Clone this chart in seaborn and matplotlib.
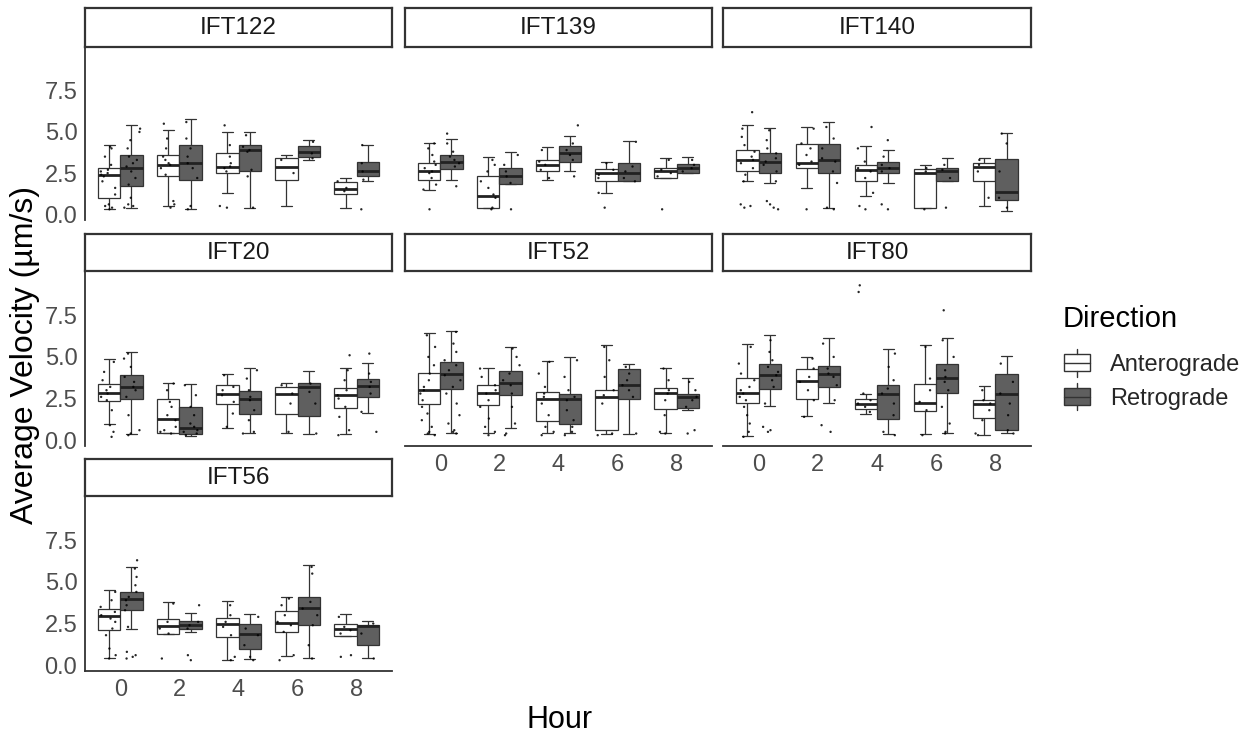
import numpy as np
import pandas as pd
import seaborn as sns
import matplotlib
matplotlib.use("Agg")
import matplotlib.pyplot as plt
from matplotlib.patches import Rectangle, Patch
from matplotlib.lines import Line2D
from matplotlib.legend_handler import HandlerBase

# ---------------- data ----------------
HOURS = ["0", "2", "4", "6", "8"]
DIRECTIONS = ["Anterograde", "Retrograde"]
PANELS = ["IFT122", "IFT139", "IFT140", "IFT20", "IFT52", "IFT80", "IFT56"]

# box summaries per hour: (lower whisker, Q1, median, Q3, upper whisker)
IFT122_ANT = [(0.3, 1.0, 2.4, 2.8, 4.2), (0.5, 2.35, 3.0, 3.6, 5.1), (1.3, 2.5, 2.9, 3.7, 5.0), (0.5, 2.1, 2.9, 3.4, 3.6), (0.4, 1.2, 1.55, 1.95, 2.2)]
IFT122_RET = [(0.4, 1.7, 2.8, 3.6, 5.4), (0.3, 2.1, 3.1, 4.2, 5.8), (0.35, 2.6, 3.9, 4.2, 5.0), (3.3, 3.45, 3.8, 4.15, 4.5), (2.0, 2.3, 2.6, 3.2, 4.2)]
IFT139_ANT = [(1.5, 2.05, 2.6, 3.1, 4.3), (0.35, 0.35, 1.1, 2.35, 3.5), (2.1, 2.6, 3.0, 3.3, 4.1), (1.3, 2.0, 2.5, 2.75, 3.2), (2.2, 2.2, 2.6, 2.8, 3.4)]
IFT139_RET = [(2.1, 2.75, 3.2, 3.6, 4.6), (1.85, 1.85, 2.3, 2.8, 3.8), (2.6, 3.2, 3.75, 4.15, 4.75), (2.0, 2.0, 2.5, 3.1, 4.45), (2.5, 2.5, 2.8, 3.05, 3.5)]
IFT140_ANT = [(2.0, 2.6, 3.3, 3.9, 5.45), (1.6, 2.8, 3.1, 4.25, 5.3), (1.1, 2.0, 2.7, 3.0, 4.15), (0.35, 0.35, 2.5, 2.75, 3.0), (0.5, 2.0, 2.9, 3.1, 3.4)]
IFT140_RET = [(1.9, 2.5, 3.2, 3.7, 5.25), (0.35, 2.5, 3.3, 4.25, 5.6), (1.9, 2.5, 2.8, 3.2, 3.9), (2.0, 2.0, 2.6, 2.8, 3.4), (0.2, 0.85, 1.35, 3.35, 4.95)]
IFT20_ANT = [(0.95, 2.35, 2.85, 3.35, 4.85), (0.45, 0.45, 1.25, 2.5, 3.45), (0.75, 2.15, 2.8, 3.3, 4.0), (0.45, 1.55, 2.8, 3.2, 3.45), (0.35, 1.95, 2.7, 3.15, 4.35)]
IFT20_RET = [(0.35, 2.45, 3.2, 3.9, 5.3), (0.25, 0.4, 0.75, 2.0, 3.35), (0.45, 1.6, 2.45, 2.95, 4.35), (0.35, 1.45, 3.2, 3.45, 4.15), (1.65, 2.6, 3.25, 3.7, 4.65)]
IFT52_ANT = [(0.35, 2.2, 3.0, 4.05, 6.45), (0.45, 2.1, 2.85, 3.3, 4.35), (0.45, 1.15, 2.5, 2.9, 4.75), (0.35, 0.6, 2.6, 3.0, 5.7), (0.45, 1.85, 2.85, 3.15, 4.35)]
IFT52_RET = [(0.45, 3.1, 3.95, 4.7, 6.55), (0.75, 2.7, 3.45, 4.15, 5.6), (0.45, 1.0, 2.45, 2.75, 5.0), (0.4, 2.5, 3.3, 4.3, 4.6), (1.8, 1.95, 2.6, 2.8, 3.75)]
IFT80_ANT = [(0.25, 2.25, 2.85, 3.75, 5.8), (1.45, 2.5, 3.55, 4.3, 5.0), (1.6, 1.85, 2.15, 2.5, 2.8), (0.35, 1.75, 2.25, 3.4, 5.7), (0.3, 1.35, 2.2, 2.4, 3.25)]
IFT80_RET = [(2.05, 3.1, 3.9, 4.6, 6.3), (2.25, 3.2, 3.95, 4.45, 6.15), (0.35, 1.25, 2.8, 3.3, 5.45), (0.45, 2.85, 3.75, 4.6, 6.15), (0.45, 0.6, 2.8, 3.95, 5.05)]
IFT56_ANT = [(0.45, 2.1, 2.95, 3.35, 4.5), (1.9, 1.9, 2.35, 2.75, 3.8), (0.3, 1.7, 2.45, 2.85, 3.85), (0.55, 2.0, 2.55, 3.25, 4.1), (1.75, 1.75, 2.2, 2.5, 3.05)]
IFT56_RET = [(2.15, 3.3, 4.0, 4.4, 5.9), (2.0, 2.2, 2.4, 2.65, 3.15), (0.35, 1.0, 1.9, 2.45, 3.1), (0.45, 2.4, 3.45, 4.1, 6.0), (0.45, 1.2, 2.35, 2.4, 2.65)]

# visible individual measurements per hour (read approximately)
IFT122_ANT_PTS = [[0.3, 0.4, 0.5, 0.6, 1.2, 1.6, 2.0, 2.3, 2.4, 2.5, 2.6, 2.7, 3.0, 3.5, 4.0, 4.1],
                  [0.4, 0.6, 0.8, 2.4, 2.8, 3.0, 3.1, 3.3, 3.5, 4.0, 4.6, 5.5],
                  [0.4, 0.5, 2.6, 2.8, 2.9, 3.1, 3.5, 4.2, 5.4],
                  [2.5, 3.3], [1.4, 1.6, 2.0]]
IFT122_RET_PTS = [[0.4, 0.5, 0.6, 1.0, 1.8, 2.2, 2.6, 2.9, 3.1, 3.3, 3.5, 4.0, 4.5, 5.0, 5.2],
                  [0.3, 0.5, 2.2, 2.8, 3.1, 3.5, 4.0, 4.6, 5.6],
                  [0.4, 2.3, 2.7, 3.8, 3.9, 4.1, 4.8],
                  [3.4, 3.7, 4.4], [0.3, 2.1, 2.6, 3.1, 4.2]]
IFT139_ANT_PTS = [[0.3, 1.5, 1.8, 2.2, 2.5, 2.6, 2.8, 3.0, 3.2, 3.6, 4.0, 4.3],
                  [0.3, 0.4, 1.0, 1.2, 1.6, 2.0, 2.6, 3.0, 3.3],
                  [2.2, 2.7, 3.0, 3.2, 3.9], [0.4, 1.3, 2.2, 2.4, 2.7, 3.1], [0.3, 2.3, 2.5, 2.7, 3.3]]
IFT139_RET_PTS = [[1.7, 2.9, 3.1, 3.3, 3.5, 3.8, 4.3, 4.9], [0.3, 1.9, 2.3, 2.6, 3.0, 3.6],
                  [2.3, 3.3, 3.6, 3.9, 4.3, 5.4], [2.0, 2.2, 2.6, 2.9, 4.4], [2.6, 2.8, 3.0, 3.3]]
IFT140_ANT_PTS = [[0.4, 0.5, 0.6, 2.0, 2.4, 2.8, 3.1, 3.3, 3.5, 3.8, 4.2, 4.7, 5.2, 6.2],
                  [0.3, 3.0, 3.2, 3.6, 4.0, 4.3, 5.2],
                  [0.3, 0.5, 1.3, 2.2, 2.6, 2.8, 3.2, 4.0, 5.3], [0.3, 2.6, 2.8], [1.0, 2.6, 3.0, 3.3]]
IFT140_RET_PTS = [[0.3, 0.4, 0.6, 0.8, 2.0, 2.6, 3.0, 3.2, 3.4, 3.7, 4.0, 4.5, 5.1],
                  [0.3, 0.4, 1.9, 2.6, 3.2, 3.4, 4.0, 4.6, 5.3],
                  [0.3, 0.6, 2.6, 2.8, 3.0, 3.5, 4.5], [0.4, 2.2, 2.7, 3.0], [0.4, 1.0, 2.6, 4.3, 4.9]]
IFT20_ANT_PTS = [[0.2, 0.5, 0.9, 1.8, 2.4, 2.6, 2.8, 3.0, 3.2, 3.6, 4.1, 4.7],
                 [0.4, 0.5, 0.6, 0.8, 1.2, 1.5, 2.0, 2.3, 3.0, 3.4],
                 [0.8, 1.6, 2.3, 2.7, 3.0, 3.2, 3.9], [0.5, 2.2, 2.8, 3.3],
                 [0.3, 0.6, 1.4, 2.0, 2.5, 2.7, 3.0, 3.6, 4.2, 5.1]]
IFT20_RET_PTS = [[0.3, 0.4, 0.6, 1.5, 2.6, 3.0, 3.2, 3.5, 3.8, 4.4, 4.9, 5.2],
                 [0.3, 0.4, 0.5, 0.6, 0.8, 1.0, 1.5, 2.0, 2.7, 3.3],
                 [0.4, 0.5, 1.2, 1.8, 2.4, 2.6, 3.0, 3.7, 4.2], [0.4, 2.2, 2.9, 3.4],
                 [0.5, 1.7, 2.8, 3.2, 3.5, 4.0, 5.2]]
IFT52_ANT_PTS = [[0.3, 0.4, 0.5, 0.8, 1.2, 1.6, 2.0, 2.4, 2.8, 3.0, 3.2, 3.6, 4.0, 4.5, 5.0, 5.6, 6.3],
                 [0.3, 0.5, 0.8, 1.3, 2.0, 2.4, 2.8, 3.0, 3.3, 3.8, 4.3],
                 [0.3, 0.5, 0.8, 1.5, 2.2, 2.6, 2.8, 3.2, 4.0, 4.7],
                 [0.3, 0.4, 2.2, 2.7, 3.0, 3.8, 4.8, 5.6],
                 [0.4, 0.5, 1.5, 2.4, 2.8, 3.0, 3.6, 4.3]]
IFT52_RET_PTS = [[0.4, 0.5, 0.6, 1.0, 1.5, 2.2, 2.8, 3.2, 3.6, 3.9, 4.2, 4.5, 4.8, 5.3, 5.8, 6.5],
                 [0.3, 0.4, 1.0, 2.0, 2.8, 3.3, 3.6, 4.0, 4.5, 5.0, 5.5],
                 [0.3, 0.5, 0.8, 1.2, 1.8, 2.4, 2.6, 3.0, 3.8, 4.8],
                 [0.4, 2.6, 3.0, 3.3, 3.6, 4.0, 4.4],
                 [0.4, 0.6, 2.0, 2.4, 2.6, 3.0, 3.5]]
IFT80_ANT_PTS = [[0.2, 0.5, 1.0, 1.5, 2.0, 2.4, 2.6, 2.8, 3.0, 3.2, 3.6, 4.0, 4.6, 5.6],
                 [1.4, 2.4, 3.0, 3.5, 3.8, 4.3, 4.9],
                 [1.7, 2.0, 2.2, 2.4, 2.8, 8.9, 9.3],
                 [0.3, 1.8, 2.3, 3.0, 3.7, 5.6],
                 [0.3, 0.4, 1.2, 1.8, 2.2, 2.4, 3.0]]
IFT80_RET_PTS = [[0.5, 0.6, 0.8, 2.2, 3.2, 3.6, 3.9, 4.1, 4.4, 4.8, 5.3, 6.0],
                 [0.5, 0.9, 2.4, 3.3, 3.8, 4.0, 4.3, 5.0, 5.8],
                 [0.3, 0.5, 1.5, 2.2, 2.8, 3.1, 3.6, 4.4, 5.2],
                 [0.4, 0.5, 1.0, 2.0, 3.0, 3.5, 3.8, 4.2, 5.0, 6.0, 7.8],
                 [0.4, 0.6, 1.5, 2.2, 2.8, 3.5, 4.6]]
IFT56_ANT_PTS = [[0.4, 0.6, 1.0, 1.8, 2.2, 2.6, 2.8, 3.0, 3.2, 3.5, 3.9, 4.4],
                 [0.4, 1.9, 2.2, 2.6, 3.7],
                 [0.3, 0.5, 1.8, 2.3, 2.6, 3.0, 3.6],
                 [0.3, 0.6, 2.0, 2.4, 2.6, 3.0, 3.6, 4.0],
                 [0.5, 0.6, 1.9, 2.1, 2.3, 2.9]]
IFT56_RET_PTS = [[0.4, 0.5, 0.6, 0.8, 2.3, 3.3, 3.6, 3.9, 4.1, 4.4, 4.8, 5.3, 5.8, 6.3],
                 [0.3, 0.6, 2.2, 2.4, 2.6, 3.6],
                 [0.3, 0.5, 1.2, 1.8, 2.2, 2.9],
                 [0.4, 1.2, 2.4, 3.0, 3.4, 3.8, 5.5, 5.9],
                 [0.4, 1.9, 2.5]]

Y_TICKS = [0.0, 2.5, 5.0, 7.5]
Y_TICK_LABELS = ["0.0", "2.5", "5.0", "7.5"]

BOX_SOURCES = {
    "IFT122": (IFT122_ANT, IFT122_RET, IFT122_ANT_PTS, IFT122_RET_PTS),
    "IFT139": (IFT139_ANT, IFT139_RET, IFT139_ANT_PTS, IFT139_RET_PTS),
    "IFT140": (IFT140_ANT, IFT140_RET, IFT140_ANT_PTS, IFT140_RET_PTS),
    "IFT20": (IFT20_ANT, IFT20_RET, IFT20_ANT_PTS, IFT20_RET_PTS),
    "IFT52": (IFT52_ANT, IFT52_RET, IFT52_ANT_PTS, IFT52_RET_PTS),
    "IFT80": (IFT80_ANT, IFT80_RET, IFT80_ANT_PTS, IFT80_RET_PTS),
    "IFT56": (IFT56_ANT, IFT56_RET, IFT56_ANT_PTS, IFT56_RET_PTS),
}

box_rows, pt_rows = [], []
for gene, (ant, ret, antp, retp) in BOX_SOURCES.items():
    for d, stats, pts in (("Anterograde", ant, antp), ("Retrograde", ret, retp)):
        for h, s, p in zip(HOURS, stats, pts):
            for v in s:
                box_rows.append((gene, h, d, v))
            for v in p:
                pt_rows.append((gene, h, d, v))
box_df = pd.DataFrame(box_rows, columns=["Gene", "Hour", "Direction", "Velocity"])
pt_df = pd.DataFrame(pt_rows, columns=["Gene", "Hour", "Direction", "Velocity"])

# ---------------- styling ----------------
sns.set_theme(style="white")
plt.rcParams["font.family"] = ["Liberation Sans", "DejaVu Sans"]

W, H = 1249, 737
fig = plt.figure(figsize=(W / 100, H / 100), dpi=100)
fig.patch.set_facecolor("white")

EDGE = "#333333"
FILLS = {"Anterograde": "#ffffff", "Retrograde": "#5f5f5f"}
DOTS = {"Anterograde": "black", "Retrograde": "black"}

COLS = [(85, 392), (405, 712), (723, 1031)]
ROWS = [(8, 48, 220), (234, 272, 446), (459, 497, 671)]  # strip top, panel top, panel bottom
LAYOUT = {"IFT122": (0, 0), "IFT139": (0, 1), "IFT140": (0, 2),
          "IFT20": (1, 0), "IFT52": (1, 1), "IFT80": (1, 2),
          "IFT56": (2, 0)}
BOTTOM = {"IFT56", "IFT52", "IFT80"}

np.random.seed(3)

def frac(x0, y0, x1, y1):
    return [x0 / W, 1 - y1 / H, (x1 - x0) / W, (y1 - y0) / H]

for gene in PANELS:
    r, c = LAYOUT[gene]
    x0, x1 = COLS[c]
    st, pt, pb = ROWS[r]
    ax = fig.add_axes(frac(x0, pt, x1, pb))
    sub_b = box_df[box_df.Gene == gene]
    sub_p = pt_df[pt_df.Gene == gene]
    sns.boxplot(data=sub_b, x="Hour", y="Velocity", hue="Direction",
                order=HOURS, hue_order=DIRECTIONS, palette=FILLS,
                width=0.75, gap=0, dodge=True, whis=(0, 100), showfliers=False,
                linewidth=0.9, linecolor=EDGE,
                medianprops=dict(linewidth=2.0, color="#222222"),
                legend=False, ax=ax)
    sns.stripplot(data=sub_p, x="Hour", y="Velocity", hue="Direction",
                  order=HOURS, hue_order=DIRECTIONS, palette=DOTS,
                  dodge=True, jitter=0.28, size=1.7, linewidth=0, alpha=0.85,
                  legend=False, ax=ax)
    ax.set_xlim(-0.6, 4.6)
    ax.set_ylim(-0.35, 10.1)
    ax.set_xlabel("")
    ax.set_ylabel("")
    ax.set_facecolor("white")
    for s in ["top", "right"]:
        ax.spines[s].set_visible(False)
    ax.tick_params(length=4, width=1, color=EDGE, labelcolor="#4d4d4d", labelsize=17, pad=1.5)
    ax.set_yticks(Y_TICKS)
    ax.set_yticklabels(Y_TICK_LABELS)
    if c == 0:
        ax.spines["left"].set_color(EDGE)
        ax.spines["left"].set_linewidth(1.3)
    else:
        ax.spines["left"].set_visible(False)
        ax.tick_params(axis="y", left=False, labelleft=False)
    if gene in BOTTOM:
        ax.spines["bottom"].set_color(EDGE)
        ax.spines["bottom"].set_linewidth(1.3)
    else:
        ax.spines["bottom"].set_visible(False)
        ax.tick_params(axis="x", bottom=False, labelbottom=False)

    # facet strip
    sax = fig.add_axes(frac(x0, st, x1, pt - 1))
    sax.set_xticks([])
    sax.set_yticks([])
    sax.set_facecolor("white")
    for s in sax.spines.values():
        s.set_color(EDGE)
        s.set_linewidth(1.6)
    sax.text(0.5, 0.48, gene, ha="center", va="center", fontsize=17.5,
             color="#1a1a1a", transform=sax.transAxes)

fig.text(25 / W, 1 - 355 / H, "Average Velocity (µm/s)", rotation=90,
         ha="center", va="center", fontsize=23, color="black")
fig.text(560 / W, 1 - 720 / H, "Hour", ha="center", va="center",
         fontsize=22, color="black")


class BoxKey(HandlerBase):
    def create_artists(self, legend, orig_handle, xdescent, ydescent,
                       width, height, fontsize, trans):
        face = orig_handle.get_facecolor()
        cx = -xdescent + width / 2
        bw = width
        y0 = -ydescent
        rect = Rectangle((cx - bw / 2, y0), bw, height,
                         facecolor=face, edgecolor=EDGE, lw=1.0, transform=trans)
        med = Line2D([cx - bw / 2, cx + bw / 2], [y0 + height / 2] * 2,
                     color=EDGE, lw=1.0, transform=trans)
        w1 = Line2D([cx, cx], [y0 - height * 0.3, y0],
                    color=EDGE, lw=1.0, transform=trans)
        w2 = Line2D([cx, cx], [y0 + height, y0 + height * 1.3],
                    color=EDGE, lw=1.0, transform=trans)
        return [rect, med, w1, w2]


# legend title as figure text, entries as legend
fig.text(1063 / W, 1 - 319 / H, "Direction", ha="left", va="center",
         fontsize=21, color="black")
handles = [Patch(facecolor=FILLS[d], edgecolor=EDGE) for d in DIRECTIONS]
leg = fig.legend(handles, DIRECTIONS,
                 loc="upper left", bbox_to_anchor=(1064 / W, 1 - 354 / H),
                 frameon=False, fontsize=17,
                 handler_map={h: BoxKey() for h in handles},
                 handlelength=1.1, handleheight=0.75, handletextpad=0.85,
                 labelspacing=0.5, borderpad=0, borderaxespad=0)

fig.savefig("out.png", dpi=100, facecolor="white")
